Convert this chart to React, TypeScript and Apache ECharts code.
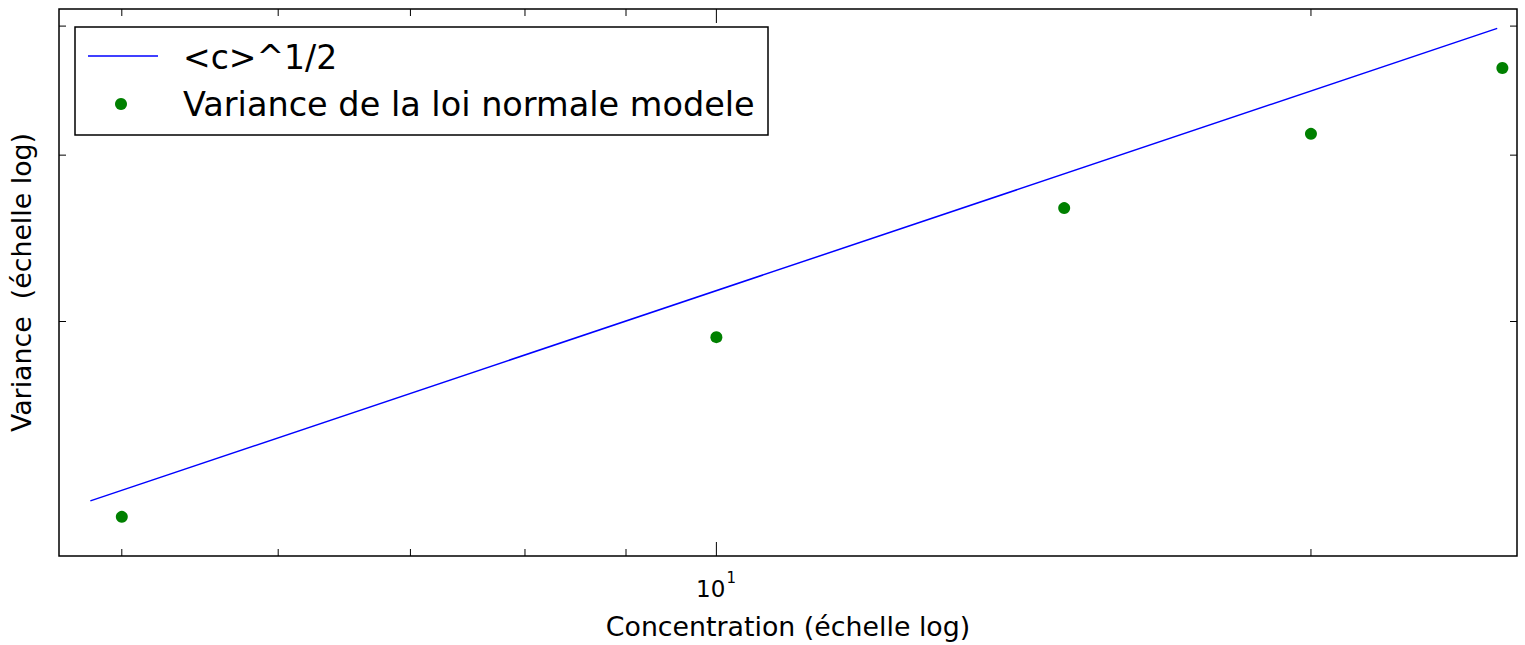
import React, { useEffect, useRef } from "react";
import * as echarts from "echarts";

// ---- data ----
const concentrations = [5, 10, 15, 20, 25];
const varianceValues = [2.14, 2.92, 3.65, 4.15, 4.65];
const sqrtLineX = [4.82, 24.85];
const sqrtLineY = [2.2, 4.98];
const xMajorTicks = [10];
const xMinorTicks = [5, 6, 7, 8, 9, 20];
const yMinorTicks = [3, 4, 5];
const xRange = [4.647, 25.43];
const yRange = [2.0, 5.15];
const lineLabel = "<c>^1/2";
const scatterLabel = "Variance de la loi normale modele";
const xTitle = "Concentration (échelle log)";
const yTitle = "Variance \u00a0(échelle log)";

const FONT = "'DejaVu Sans', 'Liberation Sans', sans-serif";

export default function App() {
  const ref = useRef<HTMLDivElement>(null);
  useEffect(() => {
    document.body.style.margin = "0";
    if (!ref.current) return;
    const chart = echarts.init(ref.current, null, { renderer: "svg" });

    const xTickRender = (len: number, withLabel: boolean) => (params: any, api: any) => {
      const cs = params.coordSys;
      const px = api.coord([api.value(0), yRange[0]])[0];
      const bottom = cs.y + cs.height;
      const children: any[] = [
        { type: "line", shape: { x1: px, y1: bottom, x2: px, y2: bottom - len }, style: { stroke: "#000", lineWidth: 1 } },
        { type: "line", shape: { x1: px, y1: cs.y, x2: px, y2: cs.y + len }, style: { stroke: "#000", lineWidth: 1 } },
      ];
      if (withLabel) {
        const v = api.value(0);
        const exp = Math.round(Math.log10(v));
        children.push({
          type: "text",
          x: px + 9,
          y: bottom + 33,
          style: { text: "10", fontSize: 23, fontFamily: FONT, fill: "#000", align: "right", verticalAlign: "middle" },
        });
        children.push({
          type: "text",
          x: px + 10,
          y: bottom + 22,
          style: { text: String(exp), fontSize: 15, fontFamily: FONT, fill: "#000", align: "left", verticalAlign: "middle" },
        });
      }
      return { type: "group", children };
    };

    const yTickRender = (len: number) => (params: any, api: any) => {
      const cs = params.coordSys;
      const py = api.coord([xRange[0], api.value(1)])[1];
      const right = cs.x + cs.width;
      return {
        type: "group",
        children: [
          { type: "line", shape: { x1: cs.x, y1: py, x2: cs.x + len, y2: py }, style: { stroke: "#000", lineWidth: 1 } },
          { type: "line", shape: { x1: right, y1: py, x2: right - len, y2: py }, style: { stroke: "#000", lineWidth: 1 } },
        ],
      };
    };

    const option: any = {
      animation: false,
      backgroundColor: "#fff",
      grid: {
        left: 59,
        right: 8,
        top: 9,
        bottom: 87,
        show: true,
        borderColor: "#000",
        borderWidth: 1.5,
        backgroundColor: "transparent",
      },
      xAxis: {
        type: "log",
        logBase: 10,
        min: xRange[0],
        max: xRange[1],
        axisLine: { show: false },
        axisTick: { show: false },
        axisLabel: { show: false },
        splitLine: { show: false },
        name: xTitle,
        nameLocation: "middle",
        nameGap: 57,
        nameTextStyle: { fontSize: 26.8, fontFamily: FONT, color: "#000" },
      },
      yAxis: {
        type: "log",
        logBase: 10,
        min: yRange[0],
        max: yRange[1],
        axisLine: { show: false },
        axisTick: { show: false },
        axisLabel: { show: false },
        splitLine: { show: false },
        name: yTitle,
        nameLocation: "middle",
        nameGap: 24,
        nameTextStyle: { fontSize: 26.8, fontFamily: FONT, color: "#000" },
      },
      series: [
        {
          type: "line",
          name: lineLabel,
          data: sqrtLineX.map((x, i) => [x, sqrtLineY[i]]),
          showSymbol: false,
          lineStyle: { color: "#0000ff", width: 1.5 },
          itemStyle: { color: "#0000ff" },
          z: 3,
        },
        {
          type: "scatter",
          name: scatterLabel,
          data: concentrations.map((x, i) => [x, varianceValues[i]]),
          symbol: "circle",
          symbolSize: 12,
          itemStyle: { color: "#008000", opacity: 1 },
          z: 4,
        },
        {
          type: "custom",
          data: xMinorTicks.map((v) => [v, yRange[0]]),
          encode: { x: 0, y: 1 },
          renderItem: xTickRender(7, false),
          silent: true,
          z: 5,
        },
        {
          type: "custom",
          data: xMajorTicks.map((v) => [v, yRange[0]]),
          encode: { x: 0, y: 1 },
          renderItem: xTickRender(14, true),
          silent: true,
          z: 5,
        },
        {
          type: "custom",
          data: yMinorTicks.map((v) => [xRange[0], v]),
          encode: { x: 0, y: 1 },
          renderItem: yTickRender(7),
          silent: true,
          z: 5,
        },
      ],
      graphic: [
        {
          type: "group",
          z: 100,
          children: [
            {
              type: "rect",
              shape: { x: 75, y: 27, width: 693, height: 108 },
              style: { fill: "#fff", stroke: "#000", lineWidth: 1.5 },
            },
            {
              type: "line",
              shape: { x1: 88, y1: 56, x2: 158, y2: 56 },
              style: { stroke: "#0000ff", lineWidth: 1.5 },
            },
            {
              type: "circle",
              shape: { cx: 121, cy: 104, r: 6 },
              style: { fill: "#008000" },
            },
            {
              type: "text",
              x: 183,
              y: 57,
              style: { text: lineLabel, fontSize: 33, fontFamily: FONT, fill: "#000", align: "left", verticalAlign: "middle" },
            },
            {
              type: "text",
              x: 183,
              y: 104,
              style: { text: scatterLabel, fontSize: 33.5, fontFamily: FONT, fill: "#000", align: "left", verticalAlign: "middle" },
            },
          ],
        },
      ],
    };
    chart.setOption(option);
    return () => chart.dispose();
  }, []);
  return <div ref={ref} style={{ width: 1525, height: 645 }} />;
}
